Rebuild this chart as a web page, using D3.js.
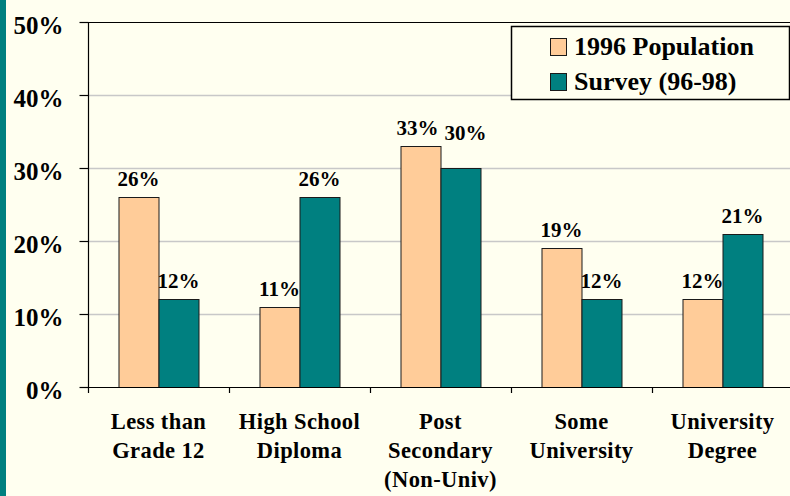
<!DOCTYPE html>
<html>
<head>
<meta charset="utf-8">
<script src="https://cdn.jsdelivr.net/npm/d3@7"></script>
<style>
  html, body { margin: 0; padding: 0; background: #FFFFF0; }
  svg { display: block; }
  text { font-family: "Liberation Serif", "Times New Roman", serif; font-weight: bold; fill: #000; }
</style>
</head>
<body>
<svg id="chart" width="790" height="496"></svg>
<script>
// Education level categories (multi-line labels split on "\n")
const categories = [
  "Less than\nGrade 12",
  "High School\nDiploma",
  "Post\nSecondary\n(Non-Univ)",
  "Some\nUniversity",
  "University\nDegree"
];
const seriesNames = ["1996 Population", "Survey (96-98)"];
const population1996 = [0.26, 0.11, 0.33, 0.19, 0.12];
const survey9698 = [0.12, 0.26, 0.30, 0.12, 0.21];
const yTicks = [0, 0.1, 0.2, 0.3, 0.4, 0.5];

const seriesColors = ["#FFCC99", "#008080"];
const seriesValues = [population1996, survey9698];

const svg = d3.select("#chart");
const W = 790, H = 496;

// Page background and left accent strip
svg.append("rect").attr("width", W).attr("height", H).attr("fill", "#FFFFF0");
svg.append("rect").attr("x", 0).attr("y", 0).attr("width", 6).attr("height", H).attr("fill", "#008080");

const plot = { left: 88, right: 793, top: 22, bottom: 387 };

const x = d3.scaleBand()
  .domain(categories)
  .range([plot.left, plot.right])
  .paddingInner(0.4326)
  .paddingOuter(0.2163);

const xSeries = d3.scaleBand()
  .domain(seriesNames)
  .range([0, x.bandwidth()]);

const y = d3.scaleLinear().domain([0, 0.5]).range([plot.bottom, plot.top]);

// Horizontal gridlines
svg.append("g")
  .selectAll("line")
  .data(yTicks.filter(t => t > 0 && t < 0.5))
  .join("line")
  .attr("x1", plot.left).attr("x2", W)
  .attr("y1", d => Math.round(y(d)) + 0.5).attr("y2", d => Math.round(y(d)) + 0.5)
  .attr("stroke", "#C8C8C8").attr("stroke-width", 1.5);

// Top border of the plot area
svg.append("line")
  .attr("x1", plot.left).attr("x2", W)
  .attr("y1", Math.round(y(0.5)) + 0.5).attr("y2", Math.round(y(0.5)) + 0.5)
  .attr("stroke", "#000").attr("stroke-width", 1.2);

// Bars
const rows = categories.map((c, i) => ({ cat: c, values: seriesNames.map((s, j) => ({ s, j, v: seriesValues[j][i] })) }));

const groups = svg.append("g").selectAll("g")
  .data(rows)
  .join("g")
  .attr("transform", d => `translate(${x(d.cat)},0)`);

groups.selectAll("rect")
  .data(d => d.values)
  .join("rect")
  .attr("x", d => xSeries(d.s) + 0.5)
  .attr("y", d => Math.round(y(d.v)) + 0.5)
  .attr("width", xSeries.bandwidth())
  .attr("height", d => y(0) - Math.round(y(d.v)))
  .attr("fill", d => seriesColors[d.j])
  .attr("stroke", "#1a1a1a")
  .attr("stroke-width", 1);

// Value labels above bars; when the two labels of a group sit at nearly
// the same height they are spread apart and the lower one is lifted.
const labelGap = 11, labelSize = 21;
groups.each(function (d) {
  const pos = d.values.map(v => ({
    v,
    x: xSeries(v.s) + xSeries.bandwidth() / 2,
    y: y(v.v) - labelGap
  }));
  const [a, b] = pos;
  if (Math.abs(a.y - b.y) < labelSize * 1.3) {
    a.x -= 3; b.x += 5;
    const top = Math.min(a.y, b.y);
    if (a.y > b.y) a.y = top + 5; else b.y = top + 5;
  }
  d3.select(this).selectAll("text.val")
    .data(pos)
    .join("text")
    .attr("class", "val")
    .attr("x", p => p.x)
    .attr("y", p => p.y)
    .attr("text-anchor", "middle")
    .style("font-size", labelSize + "px")
    .text(p => d3.format(".0%")(p.v.v));
});

// Y axis
const yAxis = svg.append("g")
  .attr("transform", `translate(${plot.left + 0.5},0)`)
  .call(d3.axisLeft(y).tickValues(yTicks).tickFormat(d3.format(".0%")).tickSize(9).tickPadding(16));
yAxis.select(".domain").attr("stroke", "#000").attr("stroke-width", 1.2)
  .attr("d", `M0,${plot.top}V${plot.bottom + 6}`);
yAxis.selectAll(".tick line").attr("stroke", "#000").attr("stroke-width", 1.2);
yAxis.selectAll(".tick text")
  .attr("dy", "0.46em")
  .style("font-size", "25px")
  .style("font-family", "'Liberation Serif', 'Times New Roman', serif")
  .style("font-weight", "bold")
  .attr("fill", "#000");

// X axis baseline and category divider ticks
svg.append("line")
  .attr("x1", plot.left).attr("x2", W)
  .attr("y1", plot.bottom + 0.5).attr("y2", plot.bottom + 0.5)
  .attr("stroke", "#000").attr("stroke-width", 1.2);

const step = x.step();
svg.append("g").selectAll("line")
  .data(d3.range(1, categories.length))
  .join("line")
  .attr("x1", i => Math.round(plot.left + i * step) + 0.5)
  .attr("x2", i => Math.round(plot.left + i * step) + 0.5)
  .attr("y1", plot.bottom).attr("y2", plot.bottom + 6)
  .attr("stroke", "#000").attr("stroke-width", 1.2);

// Category labels
const catLabels = svg.append("g").selectAll("text")
  .data(categories)
  .join("text")
  .attr("text-anchor", "middle")
  .attr("x", d => x(d) + x.bandwidth() / 2)
  .attr("y", 429)
  .style("font-size", "22.5px")
  .style("letter-spacing", "0.4px");
catLabels.selectAll("tspan")
  .data(d => d.split("\n"))
  .join("tspan")
  .attr("x", function () { return d3.select(this.parentNode).attr("x"); })
  .attr("dy", (d, i) => i === 0 ? 0 : 29)
  .text(d => d);

// Legend
const legend = svg.append("g").attr("transform", "translate(511,26)");
legend.append("rect")
  .attr("x", 0.5).attr("y", 0.5).attr("width", 278).attr("height", 73)
  .attr("fill", "#FFFFF0").attr("stroke", "#000").attr("stroke-width", 1.5);
const items = legend.selectAll("g.item")
  .data(seriesNames)
  .join("g")
  .attr("class", "item")
  .attr("transform", (d, i) => `translate(0,${i * 35})`);
items.append("rect")
  .attr("x", 39.5).attr("y", 12.5).attr("width", 16).attr("height", 17)
  .attr("fill", (d, i) => seriesColors[i])
  .attr("stroke", "#1a1a1a").attr("stroke-width", 1);
items.append("text")
  .attr("x", 63).attr("y", 29)
  .style("font-size", "26px")
  .text(d => d);
</script>
</body>
</html>
